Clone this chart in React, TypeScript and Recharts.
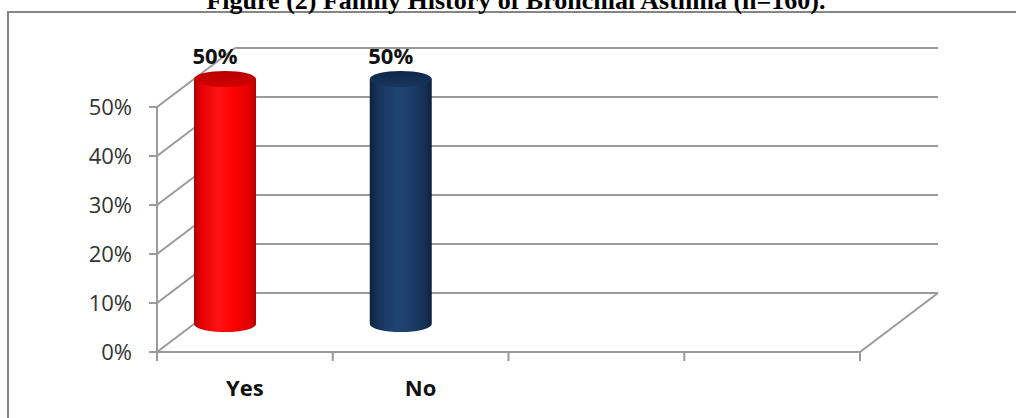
import React from 'react';
import { BarChart, Bar, XAxis, YAxis, CartesianGrid } from 'recharts';

const categories = ['Yes', 'No', '', ''];
const percents: (number | null)[] = [50, 50, null, null];
const yTicks = [0, 10, 20, 30, 40, 50];
const title = 'Figure (2) Family History of Bronchial Asthma (n=160).';

const data = categories.map((name, i) => ({ name, value: percents[i] }));

// fake 3d: offset of the back wall from the front plane
const DX = 78;
const DY = -59;
const GRID = '#9a9a9a';
const FONT = '"Open Sans", "Liberation Sans", sans-serif';

const PALETTE = [
  {
    body: [['0', '#b00000'], ['0.12', '#e60000'], ['0.4', '#ff1414'], ['0.65', '#ff0000'], ['0.9', '#e00000'], ['1', '#b40000']],
    top: ['#b80000', '#d20000'],
  },
  {
    body: [['0', '#0e223e'], ['0.15', '#17365d'], ['0.45', '#204474'], ['0.65', '#1c3e6a'], ['0.9', '#142f53'], ['1', '#0e2240']],
    top: ['#10264a', '#18365e'],
  },
];

const Cylinder = (props: any) => {
  const { x, y, width, height, index, payload } = props;
  if (payload?.value == null || !width) return null;
  const c = PALETTE[index % PALETTE.length];
  const cx = x + width / 2 - 20;
  const rx = width / 2;
  const ry = 8;
  const top = y - 28;
  const bottom = y + height - 28;
  const gid = `cyl-body-${index}`;
  const tid = `cyl-top-${index}`;
  return (
    <g>
      <defs>
        <linearGradient id={gid} x1="0" x2="1" y1="0" y2="0">
          {c.body.map(([o, col]) => <stop key={o} offset={o} stopColor={col} />)}
        </linearGradient>
        <linearGradient id={tid} x1="0" x2="0" y1="0" y2="1">
          <stop offset="0" stopColor={c.top[0]} />
          <stop offset="1" stopColor={c.top[1]} />
        </linearGradient>
      </defs>
      <path
        d={`M${cx - rx},${top} L${cx - rx},${bottom} A${rx},${ry} 0 0 0 ${cx + rx},${bottom} L${cx + rx},${top} Z`}
        fill={`url(#${gid})`}
      />
      <ellipse cx={cx} cy={top} rx={rx} ry={ry} fill={`url(#${tid})`} />
      <text x={cx - 10} y={top - 15} textAnchor="middle" fontFamily={FONT} fontWeight="bold" fontSize={22} fill="#111">
        {`${payload.value}%`}
      </text>
    </g>
  );
};

const WallLine = (props: any) => {
  const { x1, y1, x2, y, height } = props;
  const isFloor = Math.abs(y1 - (y + height)) < 1;
  return (
    <g stroke={GRID} strokeWidth={2} fill="none">
      <line x1={x1} y1={y1} x2={x1 + DX} y2={y1 + DY} />
      <line x1={x1 + DX} y1={y1 + DY} x2={x2 + DX} y2={y1 + DY} />
      {isFloor && <line x1={x2} y1={y1} x2={x2 + DX} y2={y1 + DY} />}
    </g>
  );
};

const CategoryTick = (props: any) => {
  const { x, y, payload, index, visibleTicksCount } = props;
  const half = 703 / categories.length / 2;
  const last = index === (visibleTicksCount ?? categories.length) - 1;
  return (
    <g>
      <line x1={x - half} y1={y} x2={x - half} y2={y + 9} stroke={GRID} strokeWidth={2} />
      {last && <line x1={x + half} y1={y} x2={x + half} y2={y + 9} stroke={GRID} strokeWidth={2} />}
      <text x={x} y={y + 44} textAnchor="middle" fontFamily={FONT} fontWeight="bold" fontSize={22} fill="#111">
        {payload.value}
      </text>
    </g>
  );
};

export default function App() {
  return (
    <div style={{ position: 'absolute', left: 0, top: 0, width: 1016, height: 418, overflow: 'hidden', background: '#fff' }}>
      <svg width={1016} height={418} style={{ position: 'absolute', left: 0, top: 0 }}>
        <rect x={8} y={12} width={1100} height={500} fill="none" stroke="#858585" strokeWidth={2} />
        <text x={516} y={9} textAnchor="middle" fontFamily='"Liberation Serif", "Times New Roman", serif' fontWeight="bold" fontSize={26}>
          {title}
        </text>
      </svg>
      <div style={{ position: 'absolute', left: 0, top: 0 }}>
        <BarChart width={1016} height={418} data={data} margin={{ top: 107, right: 156, bottom: 16, left: 97 }}>
          <CartesianGrid vertical={false} horizontal={(p: any) => <WallLine key={p.key ?? p.index} {...p} />} />
          <XAxis
            dataKey="name"
            height={50}
            tickLine={false}
            tickSize={0}
            tickMargin={0}
            axisLine={{ stroke: GRID, strokeWidth: 2 }}
            tick={<CategoryTick />}
            interval={0}
          />
          <YAxis
            width={60}
            domain={[0, 50]}
            ticks={yTicks}
            tickFormatter={(v: number) => `${v}%`}
            axisLine={{ stroke: GRID, strokeWidth: 2 }}
            tickLine={{ stroke: GRID, strokeWidth: 2 }}
            tickSize={8}
            tickMargin={17}
            tick={{ fontSize: 22, fill: '#333', fontFamily: FONT }}
          />
          <Bar dataKey="value" barSize={62} shape={<Cylinder />} isAnimationActive={false} />
        </BarChart>
      </div>
    </div>
  );
}
